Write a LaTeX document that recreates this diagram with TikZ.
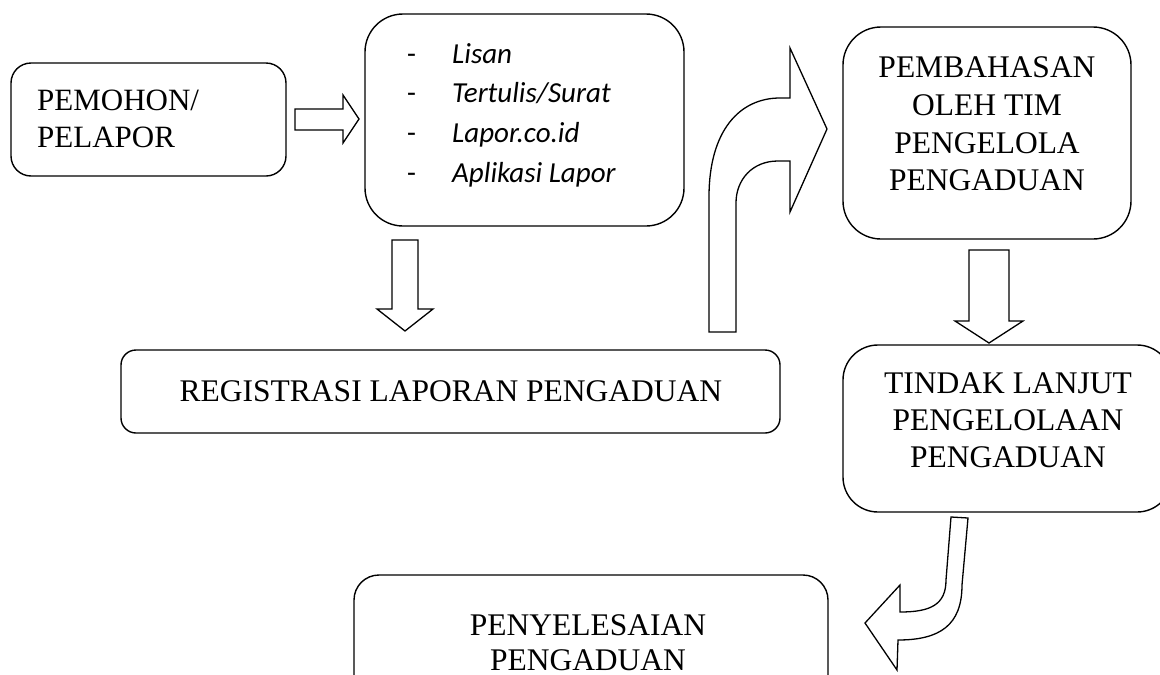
\documentclass[tikz,border=0pt]{standalone}
\usepackage{fontspec}
\setmainfont{Liberation Serif}
\newfontfamily\calib{Carlito}
\begin{document}
\begin{tikzpicture}[x=1pt,y=-1pt,
  box/.style={draw=black, line width=1.4pt, rectangle, inner sep=0pt},
  txt/.style={anchor=base, inner sep=0pt, font=\fontsize{31.5}{37}\selectfont},
  ltxt/.style={anchor=base west, inner sep=0pt, font=\fontsize{31}{37}\selectfont},
  itm/.style={anchor=base west, inner sep=0pt, font=\calib\itshape\fontsize{29}{34}\selectfont},
  dsh/.style={anchor=base west, inner sep=0pt, font=\calib\fontsize{29}{34}\selectfont},
  barrow/.style={draw=black, fill=white, line width=1.3pt, line join=miter}]
\clip (0,0) rectangle (1160,675);
\fill[white] (0,0) rectangle (1160,675);

% boxes
\node[box, rounded corners=20pt, minimum width=275pt, minimum height=113pt] (pemohon) at (148.5,119.5) {};
\node[box, rounded corners=38pt, minimum width=319pt, minimum height=212pt] (media) at (524.5,120) {};
\node[box, rounded corners=15pt, minimum width=659pt, minimum height=83pt] (regis) at (450.5,391.5) {};
\node[box, rounded corners=38pt, minimum width=288pt, minimum height=212pt] (bahas) at (987,133) {};
\node[box, rounded corners=35pt, minimum width=329pt, minimum height=167pt] (tindak) at (1007.5,428.5) {};
\node[box, rounded corners=25pt, minimum width=474pt, minimum height=145pt] (selesai) at (591,647.5) {};

% texts
\node[ltxt] (t1a) at (37,110) {PEMOHON/};
\node[ltxt] (t1b) at (37,147) {PELAPOR};

\node[dsh] (d1) at (407,63) {-};
\node[dsh] (d2) at (407,102) {-};
\node[dsh] (d3) at (407,142) {-};
\node[dsh] (d4) at (407,182) {-};
\node[itm] (i1) at (452,63) {Lisan};
\node[itm] (i2) at (452,102) {Tertulis/Surat};
\node[itm] (i3) at (452,142) {Lapor.co.id};
\node[itm] (i4) at (452,182) {Aplikasi Lapor};

\node[txt] (t3) at (451,401) {REGISTRASI LAPORAN PENGADUAN};

\node[txt] (t4a) at (987,77) {PEMBAHASAN};
\node[txt] (t4b) at (987,115) {OLEH TIM};
\node[txt] (t4c) at (987,153) {PENGELOLA};
\node[txt] (t4d) at (987,190) {PENGADUAN};

\node[txt] (t5a) at (1008,393) {TINDAK LANJUT};
\node[txt] (t5b) at (1008,430) {PENGELOLAAN};
\node[txt] (t5c) at (1008,467) {PENGADUAN};

\node[txt] (t6a) at (588,635) {PENYELESAIAN};
\node[txt] (t6b) at (588,670) {PENGADUAN};

% block arrows
\draw[barrow] (295,109) -- (343,109) -- (343,95) -- (359,119) -- (343,143) -- (343,130) -- (295,130) -- cycle;
\draw[barrow] (392,240) -- (418,240) -- (418,309) -- (433,309) -- (405,331) -- (377,309) -- (392,309) -- cycle;
\draw[barrow] (709,332) -- (709,197) .. controls (709,130) and (740,98) .. (780,98) -- (790,98) -- (790,48)
  -- (827,129) -- (790,212) -- (790,161) -- (778,161) .. controls (752,161) and (736,180) .. (736,203)
  -- (736,332) -- cycle;
\draw[barrow] (969,250) -- (1009,250) -- (1009,321) -- (1023,321) -- (989,343) -- (955,321) -- (969,321) -- cycle;
\draw[barrow] (951,517) -- (968,518) -- (962,585) .. controls (962,625) and (940,640) .. (898,640)
  -- (897,670) -- (865,623) -- (900,585) -- (900,612) .. controls (930,612) and (946,605) .. (946,580) -- cycle;
\end{tikzpicture}
\end{document}
